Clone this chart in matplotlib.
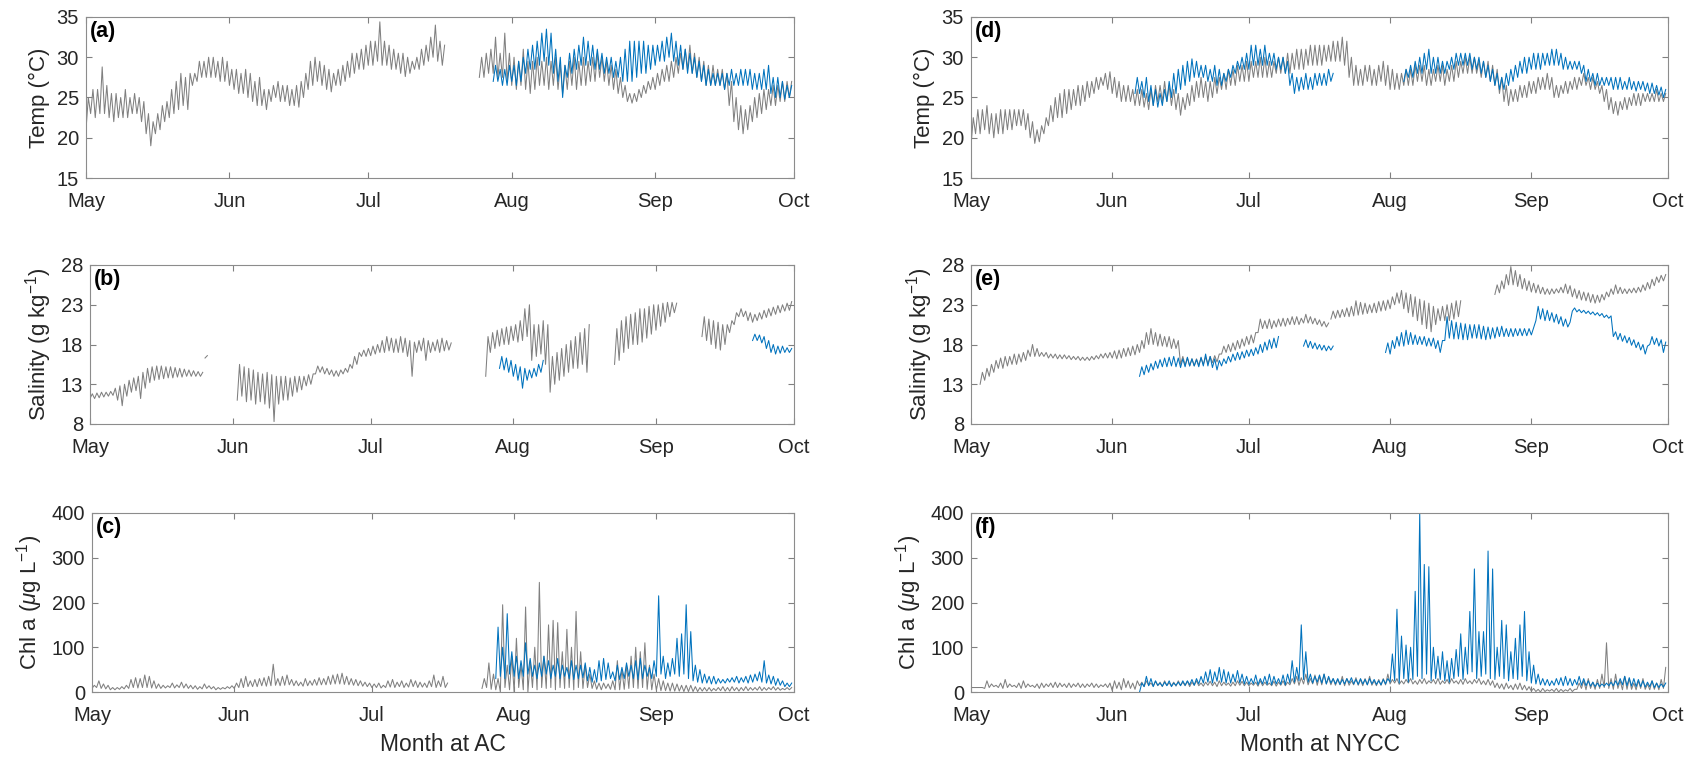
#!/usr/bin/env python3
# -*- coding: utf-8 -*-

import numpy as np
import matplotlib
matplotlib.use("Agg")
import matplotlib.pyplot as plt

###############################################################################
# Data (days since 1 May; each series = start day, daily low list, daily high list)
###############################################################################

MONTH_DAYS = [0, 31, 61, 92, 123, 153]
MONTH_LABELS = ["May", "Jun", "Jul", "Aug", "Sep", "Oct"]

GRAY = "#808080"
BLUE = "#0072BD"

# ---- AC temperature (a)
ac_temp_gray_1_start = 0
ac_temp_gray_1_lo = [21, 23, 22.5, 23, 23, 22.5, 22, 22.5, 22.5, 22.5,
                     23, 23, 22, 20.5, 19, 20.5, 21, 22, 22.5, 23,
                     23.5, 24, 23.5, 26.5, 27, 27.5, 27.5, 27.5, 27.5, 27,
                     27, 26.5, 26, 25.5, 25.5, 25, 24.5, 24, 24, 23.5,
                     24.5, 25, 24.5, 24.5, 24, 24, 23.8, 25, 26, 26.5,
                     27, 26.5, 26, 25.7, 26.5, 26.5, 27, 27.5, 28, 28.5,
                     28.5, 29, 29, 29.5, 29, 29, 28.5, 28.5, 28, 27.6,
                     28, 28.5, 28.5, 29, 29.5, 30, 29.5, 29]
ac_temp_gray_1_hi = [25, 26, 26, 28.8, 26.5, 25.5, 25.5, 25, 26, 25,
                     25.5, 25, 24.5, 23, 22, 23, 24, 24.5, 26, 27,
                     28, 27.5, 28, 28, 29.5, 29.5, 30, 30, 29.5, 30,
                     29.5, 28.5, 28.5, 28, 28.5, 28, 27, 27.5, 26, 26,
                     26.5, 27, 26.5, 26.5, 26, 26.5, 27, 28, 29.5, 30,
                     29.5, 29, 28.5, 28, 28.5, 29, 29.5, 30.5, 30.5, 31,
                     31.5, 32, 32, 34.4, 32, 31.5, 31, 30.5, 30.5, 30,
                     29.5, 30, 31, 31.5, 32.5, 34, 32, 31.5]
ac_temp_gray_2_start = 85
ac_temp_gray_2_lo = [27.5, 27.5, 28, 28, 27.5, 27.5, 27, 26.5, 26, 26.5,
                     26, 25.5, 26, 26.5, 26.5, 26, 26.5, 26, 25.5, 26,
                     26.5, 26, 26.5, 26.5, 27, 27, 27.5, 27, 26.5, 26,
                     25.5, 25, 24.5, 24.3, 24.5, 25, 25.5, 26, 26, 26.5,
                     27, 27, 27.5, 28, 28.5, 28.5, 28, 27.5, 27, 26.5,
                     26.5, 26.5, 26.5, 26, 24, 22, 21, 20.5, 21, 22,
                     22.5, 23, 23.5, 24, 24, 24.5, 24.5, 25]
ac_temp_gray_2_hi = [30, 30.5, 31, 32.5, 30.5, 33, 30.5, 30, 29.5, 31,
                     29.5, 29.5, 30, 29.5, 30, 29.5, 30, 29, 29, 29.5,
                     30, 29.5, 30, 29.5, 30, 30.5, 30, 29.5, 29, 28.5,
                     27.5, 26.5, 25.5, 25.5, 26, 26.5, 27, 27.5, 28, 28.5,
                     29, 29.5, 30, 30.5, 31, 31.5, 30.5, 30, 29.5, 29,
                     29, 28.5, 28.5, 28, 27, 25, 24, 23.5, 24, 25,
                     25.5, 26, 26, 26.5, 26.5, 27, 27, 27]
ac_temp_blue_start = 88
ac_temp_blue_lo = [27, 27, 26.5, 26.5, 27, 26.5, 27, 28, 28.5, 28.5,
                   29, 29.5, 29, 28, 27, 25, 27.5, 28, 28.5, 29,
                   29, 29, 28.5, 28.5, 28, 28, 27.5, 27.5, 27, 27,
                   27, 27.5, 28, 28, 28.5, 29, 29.5, 29.5, 30, 29.5,
                   29, 28.5, 28, 28, 27.5, 27, 26.5, 26.5, 26.5, 26.5,
                   26, 26.5, 26.5, 26.5, 26.5, 26.5, 26, 26, 26, 26,
                   25.5, 25, 25, 24.8, 25]
ac_temp_blue_hi = [29, 28.5, 28.5, 29, 29, 29.5, 30, 31, 31.5, 32,
                   33, 33.5, 33, 31, 30, 29, 30.5, 31, 31.5, 32.5,
                   32, 31.5, 31, 30.5, 30, 30, 29.5, 30, 31, 32,
                   32, 32, 32, 31.5, 31.5, 31.5, 32, 32.5, 33, 32,
                   31.5, 31, 30.5, 30, 29.5, 29, 28.5, 28, 28, 28,
                   28, 28.5, 28, 28.5, 28.5, 28.5, 28, 28, 28.5, 29,
                   27.5, 27.5, 27, 26.5, 26.5]

# ---- AC salinity (b)
ac_sal_gray_1_start = 0
ac_sal_gray_1_lo = [11.2, 11.2, 11.3, 11.4, 11.5, 11.6, 11, 10.3, 11.5, 12,
                    12.2, 11.2, 12.5, 13.2, 13.5, 13.6, 13.7, 13.8, 13.8, 13.9,
                    13.9, 14, 14, 14, 14]
ac_sal_gray_1_hi = [11.8, 11.9, 12, 12, 12.1, 12.5, 12.8, 13, 13.5, 13.8,
                    14, 14.5, 15, 15.2, 15.3, 15.3, 15.2, 15.2, 15.1, 15,
                    14.9, 14.8, 14.7, 14.6, 14.5]
ac_sal_gray_dot_start = 25
ac_sal_gray_dot_lo = [16.3]
ac_sal_gray_dot_hi = [16.6]
ac_sal_gray_2_start = 32
ac_sal_gray_2_lo = [11, 11.5, 10.8, 11, 10.5, 10.8, 10.5, 10, 8.3, 10.5,
                    11, 11, 11.5, 12, 12.3, 12.8, 13, 14.3, 14.5, 14.3,
                    14.2, 14, 14, 14.3, 14.5, 15, 15.5, 16.5, 16.5, 16.6,
                    16.8, 17, 17, 17.2, 17, 17, 17, 16.5, 14, 17,
                    17.2, 16, 17, 17.2, 17, 17.2, 17.3]
ac_sal_gray_2_hi = [15.5, 15.2, 15, 14.8, 14.5, 14.3, 14.5, 14.2, 14, 14,
                    14, 13.8, 14, 14, 14, 14.2, 14.3, 15.3, 15.2, 15,
                    14.8, 14.7, 14.8, 15, 15.5, 16.5, 17, 17.3, 17.5, 17.8,
                    18, 18.5, 19, 18.8, 18.7, 19, 18.8, 18.5, 18.3, 18.5,
                    18.8, 18.5, 18.3, 18.6, 18.8, 18.5, 18.2]
ac_sal_gray_3_start = 86
ac_sal_gray_3_lo = [14, 17, 17.5, 17.8, 18, 18, 18.5, 18.3, 18.5, 19,
                    16, 16.5, 16.8, 15.5, 12, 13, 13.5, 14, 14.5, 15,
                    15, 15.5, 14.5]
ac_sal_gray_3_hi = [19, 19.5, 19.8, 20, 20.2, 20.3, 20.5, 21, 22.5, 23,
                    20.5, 20.5, 21, 20.5, 16.5, 17, 17.5, 18, 18.5, 19,
                    19.5, 20, 20.5]
ac_sal_gray_4_start = 114
ac_sal_gray_4_lo = [15.5, 16, 17, 17.5, 18, 18, 18.3, 18.8, 19.3, 19.8,
                    20.3, 20.8, 21.5, 22]
ac_sal_gray_4_hi = [20, 21, 21.5, 21.8, 22, 22.5, 22.5, 22.8, 23, 23,
                    23.2, 23.3, 23.3, 23.2]
ac_sal_gray_5_start = 133
ac_sal_gray_5_lo = [19, 18.5, 18, 17.5, 17.3, 18, 19.5, 20.5, 21.5, 21.5,
                    21, 20.8, 21, 21.2, 21.4, 21.6, 21.8, 22, 22.2, 22.3]
ac_sal_gray_5_hi = [21.5, 21.2, 21, 20.8, 20.5, 20.5, 21, 22, 22.5, 22.2,
                    22, 21.8, 22, 22.3, 22.5, 22.7, 22.9, 23, 23.2, 23.4]
ac_sal_blue_1_start = 89
ac_sal_blue_1_lo = [15, 14.8, 14.5, 14, 13.5, 12.5, 13.5, 13.8, 14, 14.5]
ac_sal_blue_1_hi = [16.5, 16.3, 16, 15.5, 15.2, 15, 14.8, 15, 15.5, 16]
ac_sal_blue_2_start = 144
ac_sal_blue_2_lo = [18.5, 18.5, 18.2, 17.5, 17, 16.8, 16.9, 17, 17]
ac_sal_blue_2_hi = [19.3, 19.2, 19, 18.5, 18, 17.8, 17.8, 17.6, 17.5]

# ---- AC chlorophyll (c)
ac_chl_gray_1_start = 0
ac_chl_gray_1_lo = [8, 10, 8, 7, 5, 5, 6, 7, 8, 10,
                    9, 10, 10, 9, 8, 8, 9, 10, 9, 10,
                    9, 8, 7, 6, 7, 8, 7, 5, 6, 7,
                    8, 8, 10, 10, 12, 12, 12, 14, 13, 14,
                    15, 14, 15, 16, 14, 14, 13, 14, 15, 15,
                    16, 16, 17, 18, 18, 17, 16, 15, 14, 13,
                    12, 10, 10, 9, 10, 11, 10, 12, 10, 11,
                    12, 10, 11, 10, 12, 10, 12, 10]
ac_chl_gray_1_hi = [15, 25, 18, 15, 10, 10, 12, 15, 28, 32,
                    30, 38, 35, 25, 18, 15, 14, 20, 16, 22,
                    18, 15, 14, 12, 18, 14, 12, 10, 10, 12,
                    14, 20, 30, 35, 25, 28, 30, 32, 35, 62,
                    30, 35, 38, 28, 25, 22, 30, 25, 28, 32,
                    30, 35, 38, 40, 42, 35, 30, 28, 25, 22,
                    20, 18, 20, 15, 25, 28, 22, 25, 20, 28,
                    25, 22, 20, 25, 38, 25, 35, 20]
ac_chl_gray_2_start = 85
ac_chl_gray_2_lo = [8, 10, 6, 5, 0, 10, 5, 0, 10, 5,
                    0, 10, 5, 10, 8, 10, 5, 10, 8, 10,
                    5, 10, 8, 10, 8, 6, 5, 8, 6, 5,
                    5, 6, 8, 10, 8, 10, 6, 5, 4, 3,
                    3, 2, 2, 2, 1, 1, 1, 1, 2, 2,
                    2, 3, 3, 2, 2, 3, 2, 3, 3, 4,
                    4, 3, 4, 5, 4, 4, 5, 5]
ac_chl_gray_2_hi = [30, 65, 40, 30, 195, 60, 80, 120, 60, 190,
                    70, 100, 245, 80, 150, 160, 155, 90, 140, 100,
                    180, 90, 60, 40, 25, 20, 20, 18, 25, 70,
                    50, 60, 80, 100, 90, 110, 60, 40, 30, 25,
                    20, 20, 18, 15, 15, 15, 12, 10, 10, 10,
                    8, 10, 12, 10, 12, 10, 10, 12, 10, 10,
                    12, 10, 10, 12, 10, 8, 10, 10]
ac_chl_blue_start = 88
ac_chl_blue_lo = [30, 35, 30, 40, 35, 30, 35, 40, 35, 30,
                  35, 40, 30, 35, 30, 35, 30, 28, 30, 32,
                  25, 22, 22, 25, 28, 30, 25, 28, 30, 35,
                  30, 28, 30, 35, 30, 35, 40, 30, 35, 40,
                  35, 40, 30, 25, 22, 20, 20, 18, 18, 20,
                  20, 22, 22, 20, 22, 20, 22, 25, 22, 20,
                  18, 15, 15, 12, 12]
ac_chl_blue_hi = [145, 100, 175, 90, 80, 70, 110, 75, 60, 65,
                  80, 70, 60, 75, 60, 55, 70, 60, 60, 65,
                  55, 50, 70, 75, 65, 45, 60, 55, 65, 60,
                  70, 75, 60, 55, 70, 215, 80, 65, 75, 120,
                  130, 195, 135, 60, 50, 40, 35, 35, 30, 28,
                  30, 32, 35, 32, 35, 38, 40, 45, 70, 38,
                  35, 30, 25, 20, 20]

# ---- NYCC temperature (d)
ny_temp_gray_start = 0
ny_temp_gray_lo = [19, 20.5, 20.5, 21, 20.5, 20, 20.5, 20.5, 21, 21,
                   21.5, 21.5, 21, 20, 19.3, 19.5, 20.5, 21.5, 22, 22.5,
                   22.5, 23, 23.5, 24, 24, 24.5, 25, 25.5, 26, 26.5,
                   26, 25.5, 25, 24.5, 24.5, 24.5, 24, 24, 23.8, 23.5,
                   24, 24.5, 24.5, 24.5, 24, 23.5, 22.8, 23.5, 24, 24.5,
                   25, 25, 24.5, 25, 25.5, 26, 26, 26.5, 26.5, 27,
                   27, 27, 27.5, 27.5, 27.5, 27.5, 27.5, 28, 28, 28,
                   28, 28.5, 28.5, 28.5, 29, 29, 29, 29, 29.5, 29.5,
                   29.5, 29.5, 29, 27.5, 26.5, 26.5, 26.5, 27, 26.5, 26.5,
                   27, 26.5, 26, 26, 26, 26.5, 26.5, 26.5, 27, 27,
                   26.5, 26.5, 27, 27, 26.5, 27, 27, 27.5, 28, 28,
                   28, 28, 27.5, 27.5, 27, 26.5, 25.5, 24.5, 24, 24.5,
                   24.5, 25, 25, 25.5, 25.5, 26, 26, 26, 25, 25,
                   25.5, 25.5, 26, 26, 26.5, 26.5, 26, 26, 25.5, 24.5,
                   23.5, 23, 22.8, 23.5, 23.5, 24, 24, 24, 24.5, 24.5,
                   24.5, 24.5, 24.5]
ny_temp_gray_hi = [22.5, 23.5, 23.5, 24, 23, 23, 23.5, 23.5, 23.5, 23.5,
                   23.5, 23.5, 23, 22, 21, 21.5, 22.5, 24, 25, 25.5,
                   26, 26, 26, 26.5, 26.5, 27, 27, 27.5, 27.5, 28,
                   28.2, 27.5, 27, 26.5, 26.5, 26, 26, 26, 25.5, 26,
                   26.5, 26.5, 27, 26.5, 26, 25.5, 25, 25.5, 26.5, 27,
                   27.5, 27, 27, 27.5, 27.5, 28, 28.5, 28.5, 29, 29,
                   29.5, 29.5, 29.5, 30, 30, 29.5, 29.5, 30, 30, 30.5,
                   30.5, 31, 31, 31, 31.5, 31.5, 31.5, 31.5, 31.5, 32,
                   32, 32.5, 32, 30, 29, 28.5, 29, 29, 28.5, 29,
                   29.5, 29, 28.5, 28, 28, 28.5, 28.5, 29, 29, 29,
                   28.5, 28.5, 29, 29, 28.5, 29, 29.5, 29.5, 30, 30,
                   30, 29.5, 29.5, 29.5, 29, 28.5, 27.5, 26.5, 26, 26,
                   26.5, 26.5, 27, 27, 27.5, 27.5, 28, 27.5, 26.5, 26.5,
                   27, 27, 27.5, 27.5, 28, 27.5, 27.5, 27, 26.5, 26,
                   25, 24.5, 24.5, 25, 25, 25.5, 25.5, 25.5, 25.5, 25.5,
                   26, 25.5, 25.5]
ny_temp_blue_1_start = 36
ny_temp_blue_1_lo = [25.5, 25.5, 25, 24.5, 24, 23.8, 24, 24.5, 25, 25.5,
                     26, 26.5, 27, 27.5, 27.5, 27.5, 27, 27, 26.5, 26.5,
                     27, 27.5, 28, 28.5, 28.5, 28.5, 29, 29, 29, 29,
                     29, 28.5, 28.5, 28, 26.5, 25.5, 25.8, 26, 26, 26,
                     26.5, 26.5, 26.5, 27]
ny_temp_blue_1_hi = [27.5, 27, 27.5, 26.5, 26, 25.5, 26, 27, 28, 28.5,
                     29, 29.5, 29.8, 29.5, 29, 29, 28.5, 29, 28.5, 28,
                     28.5, 29, 29.5, 30, 30.5, 31.5, 31.5, 31, 31.5, 30.5,
                     30.5, 30, 30, 29.5, 28, 27.5, 27.5, 28, 27.5, 28,
                     28, 28, 28.5, 28]
ny_temp_blue_2_start = 95
ny_temp_blue_2_lo = [27, 27.5, 27.5, 28, 28, 28.5, 28, 28, 28, 28,
                     28.5, 28.5, 29, 29, 29, 28.5, 28.5, 28, 27.5, 27,
                     26.5, 26, 26, 26.5, 27, 27.5, 28, 28, 28.5, 28.5,
                     28.5, 29, 29, 29, 29, 28.5, 28.5, 28.5, 28.5, 28,
                     27, 27, 26.5, 26.5, 26.5, 26.5, 26, 26, 26, 26,
                     26, 25.8, 26, 25.8, 25.5, 25.5, 25.3, 25]
ny_temp_blue_2_hi = [28.5, 29, 29.5, 30, 30.5, 31, 30, 30, 29.5, 29.5,
                     30, 30.5, 30.5, 30.5, 30.5, 30, 30, 29.5, 29, 28.5,
                     28, 27.5, 28, 28.5, 29, 29.5, 30, 30, 30.5, 30.5,
                     30.5, 30.5, 31, 31, 30.5, 30, 29.5, 29.5, 29.5, 29,
                     28.5, 28, 28, 27.5, 27.5, 27.5, 27.5, 27.5, 27, 27.5,
                     27, 27, 27, 26.8, 26.8, 26.5, 26.3, 26]

# ---- NYCC salinity (e)
ny_sal_gray_1_start = 2
ny_sal_gray_1_lo = [13, 13.5, 14, 14.5, 15, 15, 15.3, 15.5, 15.5, 15.8,
                    16, 16.5, 16.5, 16.5, 16.5, 16.3, 16.3, 16.2, 16.2, 16.2,
                    16.1, 16.1, 16, 16, 16, 16.1, 16.2, 16.3, 16.3, 16.3,
                    16.2, 16.3, 16.5, 16.6, 16.7, 17, 17.5, 18, 18, 17.8,
                    17.8, 17.7, 17.5, 17.5, 15.5, 15.4, 15.3, 15.3, 15.4, 15.5,
                    15.6, 15.7, 15.8, 16.8, 17, 17.1, 17.3, 17.5, 17.8, 18,
                    18.2, 19.5, 20, 20, 20, 20.2, 20.3, 20.3, 20.5, 20.5,
                    20.5, 20.7, 20.7, 20.6, 20.5, 20.3, 20.2]
ny_sal_gray_1_hi = [14.5, 15, 15.5, 16, 16.3, 16.5, 16.5, 16.8, 16.8, 17,
                    17.3, 18, 17.5, 17, 17, 16.8, 16.8, 16.7, 16.7, 16.6,
                    16.5, 16.5, 16.4, 16.4, 16.5, 16.6, 16.8, 16.9, 17, 17.2,
                    17.3, 17.5, 17.6, 17.8, 18, 18.5, 19.5, 20, 19.5, 19.3,
                    19, 19, 18.7, 18.5, 16.5, 16.3, 16.2, 16.2, 16.3, 16.4,
                    16.5, 16.6, 16.8, 17.8, 18, 18.2, 18.5, 18.7, 19, 19.2,
                    19.5, 21.2, 21, 21.2, 21, 21.2, 21.3, 21.3, 21.5, 21.5,
                    21.3, 21.8, 21.5, 21.3, 21.1, 20.9, 20.7]
ny_sal_gray_2_start = 79
ny_sal_gray_2_lo = [21.2, 21.3, 21.4, 21.5, 21.5, 21.6, 21.7, 21.8, 21.9, 22,
                    22, 22.2, 22.3, 22.5, 23, 23.2, 22.5, 22, 21.5, 21,
                    20.5, 20, 19.6, 20.5, 21, 21, 21, 21.2, 21.5]
ny_sal_gray_2_hi = [22.2, 22.3, 22.4, 22.6, 22.8, 23.5, 23.3, 23.2, 23, 23.2,
                    23.4, 23.5, 23.6, 24, 24.5, 24.8, 24.5, 24.3, 24, 23.7,
                    23.5, 23.2, 22.8, 22.5, 22.8, 23, 23.2, 23.5, 23.5]
ny_sal_gray_3_start = 115
ny_sal_gray_3_lo = [24.3, 24.5, 25, 25.5, 25.5, 25.3, 25, 24.8, 24.6, 24.5,
                    24.4, 24.3, 24.3, 24.4, 24.5, 24.5, 24.4, 24, 23.8, 23.6,
                    23.5, 23.3, 23.2, 23.3, 23.6, 24, 24.3, 24.4, 24.4, 24.4,
                    24.5, 24.5, 24.6, 24.8, 25, 25.4, 25.8, 26]
ny_sal_gray_3_hi = [25.5, 26, 26.8, 27.8, 27.3, 26.8, 26.3, 26, 25.7, 25.5,
                    25.2, 25, 25, 25, 25.2, 25.6, 25.4, 25, 24.8, 24.6,
                    24.5, 24.3, 24.2, 24.3, 24.6, 25, 25.5, 25.2, 25, 25,
                    25.1, 25.2, 25.5, 25.8, 26.2, 26.5, 26.7, 26.8]
ny_sal_blue_1_start = 37
ny_sal_blue_1_lo = [14, 14.2, 14.5, 14.8, 15, 15.2, 15.2, 15.3, 15.2, 15.1,
                    15.2, 15.3, 15.3, 15.2, 15.3, 15.3, 15.1, 14.8, 15.3, 15.6,
                    15.8, 16, 16.1, 16.3, 16.5, 16.6, 16.8, 17, 17.3, 17.5,
                    17.6]
ny_sal_blue_1_hi = [15.2, 15.4, 15.6, 15.9, 16.1, 16.3, 16.4, 16.5, 16.3, 16.2,
                    16.4, 16.2, 16.1, 16.4, 16.8, 16.5, 16.2, 16, 16.2, 16.5,
                    16.8, 17, 17.1, 17.3, 17.4, 17.6, 18, 18.3, 18.6, 18.8,
                    19]
ny_sal_blue_2_start = 73
ny_sal_blue_2_lo = [17.8, 17.6, 17.5, 17.4, 17.3, 17.2, 17.3]
ny_sal_blue_2_hi = [18.6, 18.4, 18.2, 18, 17.9, 17.8, 17.8]
ny_sal_blue_3_start = 91
ny_sal_blue_3_lo = [17, 16.8, 17.5, 17.8, 17.8, 18, 18, 18, 18, 17.8,
                    17.8, 17.5, 17, 18.5, 18.8, 18.7, 18.7, 18.6, 18.6, 18.8,
                    18.8, 18.7, 18.6, 18.7, 18.8, 19, 19, 19, 19, 19.1,
                    19.1, 19.1, 19.2, 21, 21.2, 21, 21, 20.8, 20.6, 20.3,
                    20.2, 22.2, 22.1, 22, 21.9, 21.8, 21.7, 21.6, 21.4, 21.3,
                    19, 18.6, 18.4, 18.2, 17.9, 17.6, 17.3, 16.8, 18, 18,
                    17.8, 17]
ny_sal_blue_3_hi = [18.2, 18.5, 19, 19.5, 19.8, 19.5, 19.2, 19, 19, 18.8,
                    18.8, 18.5, 18.5, 21.5, 21, 20.8, 20.7, 20.6, 20.5, 20.5,
                    20.5, 20.3, 20.2, 20.1, 20.2, 20.3, 20, 20, 20, 20,
                    20, 20, 20.1, 22.8, 22.5, 22.3, 22, 21.8, 21.5, 21.2,
                    20.8, 22.6, 22.4, 22.3, 22.2, 22.1, 22, 21.9, 21.7, 21.6,
                    19.6, 19.4, 19.1, 18.9, 18.6, 18.3, 18, 17.8, 19, 18.8,
                    18.6, 18.3]

# ---- NYCC chlorophyll (f)
ny_chl_gray_start = 0
ny_chl_gray_lo = [10, 10, 10,
                  8, 10, 12, 10, 8, 10, 12, 10, 8, 10,
                  12, 10, 8, 10, 12, 10, 10, 12, 10, 10,
                  12, 10, 10, 12, 10, 10, 12, 10,
                  3, 8, 5, 10, 8, 6,
                  14, 12, 15, 13, 14, 12, 15, 14, 13, 15,
                  14, 12, 15, 14, 13, 15, 14, 12, 14, 15,
                  13, 14, 15, 14,
                  14, 15, 13, 14, 15, 14, 13, 15, 14,
                  16, 18, 15, 18, 16, 18, 15, 16, 18, 16,
                  15, 16, 14, 15, 16, 15, 14, 16, 15, 14, 15, 16,
                  18, 20, 17, 18, 20, 18, 17, 19, 18, 20,
                  18, 17, 19, 18, 20, 18, 17, 19, 18, 20,
                  17, 16, 15,
                  10, 8, 6, 8, 5, 6, 5, 4,
                  2, 1, 0, 1, 2, 1, 0, 1, 2, 1,
                  6, 8, 5, 8, 6, 8,
                  10,
                  8, 6, 8, 5, 6,
                  6, 5, 8, 6, 5, 6, 5,
                  8]
ny_chl_gray_hi = [10, 10, 10,
                  25, 18, 15, 20, 28, 18, 15, 20, 25, 18,
                  15, 18, 20, 18, 20, 22, 20, 18, 20, 18,
                  20, 18, 18, 20, 18, 16, 18, 20,
                  25, 22, 30, 25, 20, 25,
                  22, 25, 20, 24, 22, 25, 20, 22, 25, 22,
                  24, 22, 25, 20, 22, 24, 22, 25, 22, 20,
                  22, 25, 24, 22,
                  20, 22, 25, 22, 20, 24, 22, 25, 22,
                  30, 35, 32, 40, 30, 38, 35, 40, 32, 30,
                  28, 35, 30, 25, 32, 28, 30, 35, 25, 28, 30, 40,
                  28, 30, 25, 28, 30, 25, 28, 30, 25, 28,
                  30, 25, 28, 30, 25, 28, 30, 25, 28, 30,
                  25, 28, 25,
                  20, 18, 20, 15, 18, 20, 15, 12,
                  8, 6, 8, 5, 6, 8, 6, 5, 8, 6,
                  20, 25, 30, 22, 28, 40,
                  110,
                  30, 40, 25, 35, 30,
                  20, 25, 30, 18, 25, 20, 28,
                  55]
ny_chl_blue_start = 37
ny_chl_blue_lo = [0, 12, 14, 12, 15, 13, 14, 12, 15, 14,
                  15, 16, 15, 18, 20, 22, 20, 24, 22, 20,
                  20, 22, 20, 18, 17, 18, 16, 18, 17, 16,
                  18, 17, 16, 20, 22, 25, 28, 22, 20, 22,
                  20, 18, 20, 18, 17, 18, 20, 18, 17, 18,
                  16, 18, 17, 16, 18, 22, 25, 20, 30, 22,
                  28, 35, 30, 40, 25, 30, 28, 25, 22, 30,
                  35, 28, 40, 45, 30, 35, 40, 30, 28, 35,
                  30, 25, 30, 28, 35, 25, 20, 18, 16, 15,
                  14, 15, 16, 14, 15, 14, 16, 15, 14, 13,
                  12, 12, 13, 14, 14, 15, 16, 14, 13, 12,
                  12, 11, 12, 10, 10, 11]
ny_chl_blue_hi = [20, 35, 30, 25, 20, 22, 25, 20, 22, 25,
                  25, 28, 30, 35, 45, 50, 45, 55, 50, 45,
                  40, 48, 40, 35, 30, 38, 30, 35, 40, 35,
                  30, 38, 40, 70, 55, 150, 90, 40, 35, 38,
                  40, 35, 30, 30, 28, 30, 32, 28, 30, 28,
                  30, 28, 25, 28, 30, 85, 185, 125, 105, 100,
                  225, 400, 285, 280, 100, 80, 90, 70, 75, 95,
                  130, 100, 180, 275, 135, 135, 315, 275, 100, 160,
                  150, 90, 120, 150, 180, 90, 60, 40, 30, 28,
                  25, 30, 32, 35, 30, 28, 35, 30, 25, 22,
                  20, 18, 20, 22, 25, 30, 35, 32, 30, 28,
                  25, 22, 25, 20, 18, 20]

###############################################################################
# Helpers
###############################################################################

def zigzag(start, lo, hi):
    """Daily low at day d, daily high at d+0.5 -> one vertex list."""
    n = min(len(lo), len(hi))
    days = start + np.arange(n)
    x = np.empty(2 * n)
    y = np.empty(2 * n)
    x[0::2] = days
    x[1::2] = days + 0.5
    y[0::2] = lo[:n]
    y[1::2] = hi[:n]
    return x, y


def draw(ax, segments, color):
    for start, lo, hi in segments:
        x, y = zigzag(start, lo, hi)
        ax.plot(x, y, color=color, lw=0.75)


def style_axes(ax, ylim, yticks, ylabel, letter):
    ax.set_xlim(0, 153)
    ax.set_ylim(*ylim)
    ax.set_xticks(MONTH_DAYS)
    ax.set_xticklabels(MONTH_LABELS)
    ax.set_yticks(yticks)
    ax.tick_params(direction="in", length=4, width=0.8, top=True, right=True,
                   labelsize=14.5, colors="#808080", labelcolor="#262626")
    ax.tick_params(axis="x", pad=10)
    ax.tick_params(axis="y", pad=5)
    for sp in ax.spines.values():
        sp.set_color("#8c8c8c")
        sp.set_linewidth(0.8)
    ax.set_ylabel(ylabel, fontsize=16, color="#262626", labelpad=5)
    ax.text(0.005, 0.975, letter, transform=ax.transAxes, ha="left", va="top",
            fontsize=15.5, fontweight="bold", color="black")

###############################################################################
# Figure
###############################################################################

plt.rcParams["font.family"] = ["Liberation Sans", "DejaVu Sans"]
plt.rcParams["mathtext.fontset"] = "custom"
plt.rcParams["mathtext.rm"] = "Liberation Sans"
plt.rcParams["mathtext.it"] = "Liberation Sans:italic"

W, H = 1699, 760
fig = plt.figure(figsize=(W / 100, H / 100), dpi=100)


def add_ax(left, top, right, bottom):
    return fig.add_axes([left / W, 1 - bottom / H, (right - left) / W, (bottom - top) / H])


TEMP_LAB = "Temp (°C)"
SAL_LAB = "Salinity (g kg$^{-1}$)"
CHL_LAB = "Chl a ($\\mu$g L$^{-1}$)"

rows = [(17, 178), (265, 424), (513, 692)]
lefts = [(86, 794), (971, 1668)]

# (a)
ax = add_ax(lefts[0][0], rows[0][0], lefts[0][1], rows[0][1])
draw(ax, [(ac_temp_gray_1_start, ac_temp_gray_1_lo, ac_temp_gray_1_hi),
          (ac_temp_gray_2_start, ac_temp_gray_2_lo, ac_temp_gray_2_hi)], GRAY)
draw(ax, [(ac_temp_blue_start, ac_temp_blue_lo, ac_temp_blue_hi)], BLUE)
style_axes(ax, (15, 35), [15, 20, 25, 30, 35], TEMP_LAB, "(a)")

# (b)
ax = add_ax(lefts[0][0] + 4, rows[1][0], lefts[0][1], rows[1][1])
draw(ax, [(ac_sal_gray_1_start, ac_sal_gray_1_lo, ac_sal_gray_1_hi),
          (ac_sal_gray_dot_start, ac_sal_gray_dot_lo, ac_sal_gray_dot_hi),
          (ac_sal_gray_2_start, ac_sal_gray_2_lo, ac_sal_gray_2_hi),
          (ac_sal_gray_3_start, ac_sal_gray_3_lo, ac_sal_gray_3_hi),
          (ac_sal_gray_4_start, ac_sal_gray_4_lo, ac_sal_gray_4_hi),
          (ac_sal_gray_5_start, ac_sal_gray_5_lo, ac_sal_gray_5_hi)], GRAY)
draw(ax, [(ac_sal_blue_1_start, ac_sal_blue_1_lo, ac_sal_blue_1_hi),
          (ac_sal_blue_2_start, ac_sal_blue_2_lo, ac_sal_blue_2_hi)], BLUE)
style_axes(ax, (8, 28), [8, 13, 18, 23, 28], SAL_LAB, "(b)")

# (c)
ax = add_ax(lefts[0][0] + 6, rows[2][0], lefts[0][1], rows[2][1])
draw(ax, [(ac_chl_gray_1_start, ac_chl_gray_1_lo, ac_chl_gray_1_hi),
          (ac_chl_gray_2_start, ac_chl_gray_2_lo, ac_chl_gray_2_hi)], GRAY)
draw(ax, [(ac_chl_blue_start, ac_chl_blue_lo, ac_chl_blue_hi)], BLUE)
style_axes(ax, (0, 400), [0, 100, 200, 300, 400], CHL_LAB, "(c)")
ax.set_xlabel("Month at AC", fontsize=16.5, color="#262626", labelpad=6)

# (d)
ax = add_ax(lefts[1][0], rows[0][0], lefts[1][1], rows[0][1])
draw(ax, [(ny_temp_gray_start, ny_temp_gray_lo, ny_temp_gray_hi)], GRAY)
draw(ax, [(ny_temp_blue_1_start, ny_temp_blue_1_lo, ny_temp_blue_1_hi),
          (ny_temp_blue_2_start, ny_temp_blue_2_lo, ny_temp_blue_2_hi)], BLUE)
style_axes(ax, (15, 35), [15, 20, 25, 30, 35], TEMP_LAB, "(d)")

# (e)
ax = add_ax(lefts[1][0], rows[1][0], lefts[1][1], rows[1][1])
draw(ax, [(ny_sal_gray_1_start, ny_sal_gray_1_lo, ny_sal_gray_1_hi),
          (ny_sal_gray_2_start, ny_sal_gray_2_lo, ny_sal_gray_2_hi),
          (ny_sal_gray_3_start, ny_sal_gray_3_lo, ny_sal_gray_3_hi)], GRAY)
draw(ax, [(ny_sal_blue_1_start, ny_sal_blue_1_lo, ny_sal_blue_1_hi),
          (ny_sal_blue_2_start, ny_sal_blue_2_lo, ny_sal_blue_2_hi),
          (ny_sal_blue_3_start, ny_sal_blue_3_lo, ny_sal_blue_3_hi)], BLUE)
style_axes(ax, (8, 28), [8, 13, 18, 23, 28], SAL_LAB, "(e)")

# (f)
ax = add_ax(lefts[1][0], rows[2][0], lefts[1][1], rows[2][1])
draw(ax, [(ny_chl_gray_start, ny_chl_gray_lo, ny_chl_gray_hi)], GRAY)
draw(ax, [(ny_chl_blue_start, ny_chl_blue_lo, ny_chl_blue_hi)], BLUE)
style_axes(ax, (0, 400), [0, 100, 200, 300, 400], CHL_LAB, "(f)")
ax.set_xlabel("Month at NYCC", fontsize=16.5, color="#262626", labelpad=6)

fig.savefig("out.png", dpi=100)
